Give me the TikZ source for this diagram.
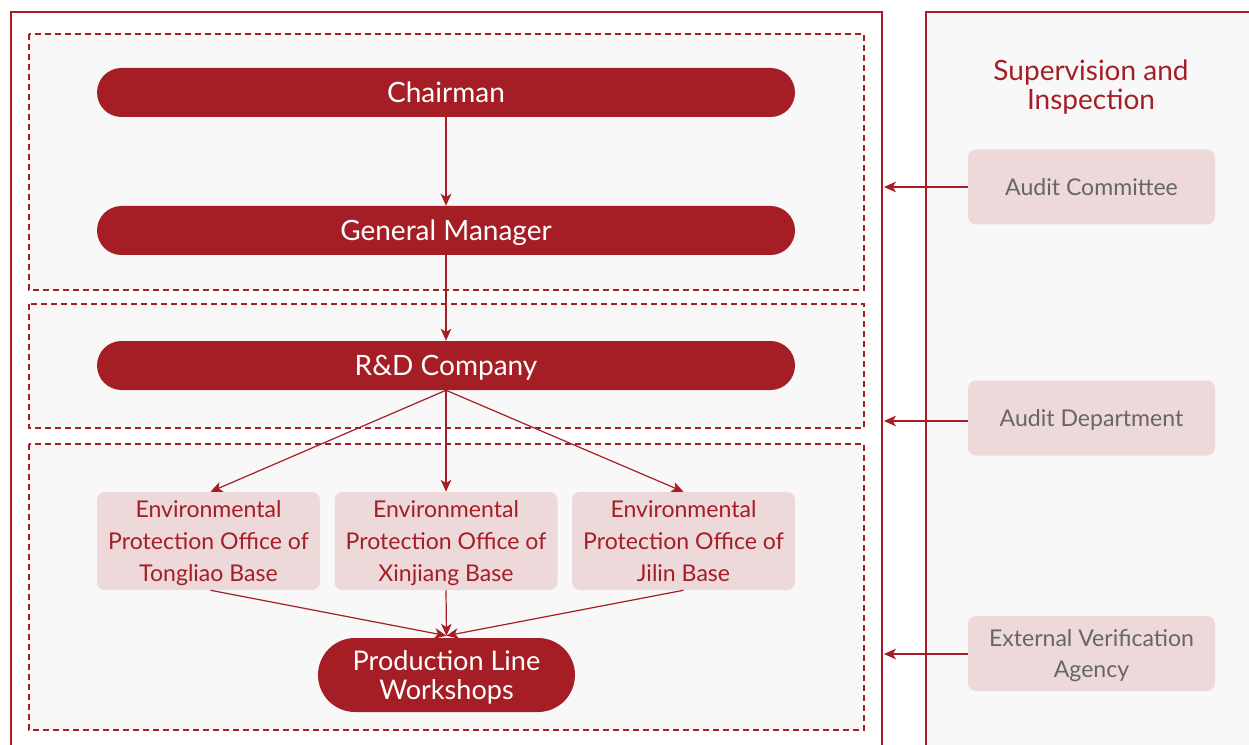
\documentclass[tikz,border=0pt]{standalone}
\usepackage{fontspec}
\setmainfont{Lato}
\usetikzlibrary{arrows.meta}
\definecolor{dred}{HTML}{A51E25}
\definecolor{pinkbox}{HTML}{EDD8DA}
\definecolor{bgray}{HTML}{F8F8F8}
\definecolor{tgray}{HTML}{666666}
\tikzset{
  pill/.style={rounded corners=24.5*0.75pt, fill=dred, text=white, minimum height=49*0.75pt, minimum width=698*0.75pt, inner sep=0pt, text depth=0pt, font=\fontsize{21}{21}\selectfont},
  officebox/.style={rounded corners=6pt, fill=pinkbox, text=dred, minimum height=98*0.75pt, minimum width=223*0.75pt, inner sep=0pt, text depth=0pt, align=center, font=\fontsize{17.3}{24}\selectfont},
  auditbox/.style={rounded corners=6pt, fill=pinkbox, text=tgray, minimum height=75*0.75pt, minimum width=247*0.75pt, inner sep=0pt, text depth=0pt, align=center, font=\fontsize{17.3}{24}\selectfont},
  dbox/.style={draw=dred, dash pattern=on 4.5pt off 3pt, line width=0.9pt, fill=bgray},
  frame/.style={draw=dred, line width=1.5pt},
  arr/.style={draw=dred, line width=0.9pt, -{Stealth[length=9pt,width=8pt,inset=2.5pt]}},
}
\begin{document}
\begin{tikzpicture}[x=0.75pt,y=-0.75pt]
\useasboundingbox (0,0) rectangle (1249,745);
\clip (0,0) rectangle (1249,745);
\fill[white] (0,0) rectangle (1249,745);
% frames
\draw[frame, fill=white] (11,12) rectangle (882,770);
\draw[frame, fill=bgray] (926,12) rectangle (1270,770);
% dashed boxes
\draw[dbox] (29,34) rectangle (864,290);
\draw[dbox] (29,304) rectangle (864,428);
\draw[dbox] (29,444) rectangle (864,730);
% pills
\node[pill] (ch) at (446,92.5) {Chairman};
\node[pill] (gm) at (446,230.5) {General Manager};
\node[pill] (rd) at (446,365.5) {R\&D Company};
% offices
\node[officebox] (tl) at (208.5,541) {Environmental\\Protection Office of\\Tongliao Base};
\node[officebox] (xj) at (446,541) {Environmental\\Protection Office of\\Xinjiang Base};
\node[officebox] (jl) at (683.5,541) {Environmental\\Protection Office of\\Jilin Base};
\node[pill, minimum width=257*0.75pt, minimum height=74*0.75pt, rounded corners=37*0.75pt, align=center, font=\fontsize{20.3}{21.75}\selectfont] (pl) at (446.5,675) {Production Line\\Workshops};
% right panel
\node[text=dred, align=center, text depth=0pt, font=\fontsize{21}{21.75}\selectfont] (sup) at (1091,85) {Supervision and\\Inspection};
\node[auditbox] (ac) at (1091.5,187) {Audit Committee};
\node[auditbox, text depth=-3pt] (ad) at (1091.5,418) {Audit Department};
\node[auditbox, text depth=-5pt] (ev) at (1091.5,653.5) {External Verification\\Agency};
\coordinate (f1) at (884,187);
\coordinate (f2) at (884,421);
\coordinate (f3) at (884,654);
% arrows
\draw[arr] (ch.south) -- (gm.north);
\draw[arr] (gm.south) -- (rd.north);
\draw[arr] (rd.south) -- ([xshift=2*0.75pt]tl.north);
\draw[arr] (rd.south) -- (xj.north);
\draw[arr] (rd.south) -- (jl.north);
\draw[arr] ([xshift=2*0.75pt]tl.south) -- ([yshift=2*0.75pt]pl.north);
\draw[arr] (xj.south) -- ([yshift=2*0.75pt]pl.north);
\draw[arr] (jl.south) -- ([yshift=2*0.75pt]pl.north);
\draw[arr] (ac.west |- f1) -- (f1);
\draw[arr] (ad.west |- f2) -- (f2);
\draw[arr] (ev.west |- f3) -- (f3);
\end{tikzpicture}
\end{document}
